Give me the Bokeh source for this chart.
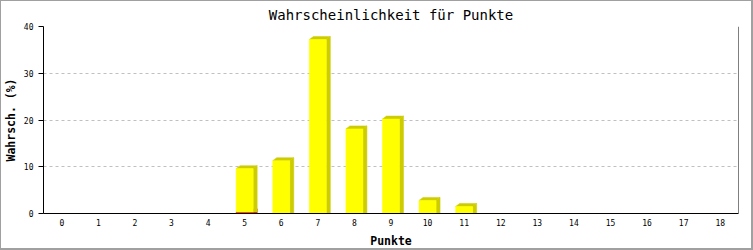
from bokeh.plotting import figure
from bokeh.models import Range1d, FixedTicker, Span
from bokeh.embed import file_html
from bokeh.resources import INLINE

# ---- data ----
points = [0, 1, 2, 3, 4, 5, 6, 7, 8, 9, 10, 11, 12, 13, 14, 15, 16, 17, 18]
red_vals = [0, 0, 0, 0, 0, 0.3, 0, 0, 0, 0, 0, 0, 0, 0, 0, 0, 0, 0, 0]
yellow_vals = [0, 0, 0, 0, 0, 9.3, 11.3, 37.2, 18.1, 20.2, 2.8, 1.5, 0, 0, 0, 0, 0, 0, 0]
y_ticks = [0, 10, 20, 30, 40]

title = "Wahrscheinlichkeit für Punkte"
x_label = "Punkte"
y_label = "Wahrsch. (%)"

# ---- style ----
W, H = 753, 250
FONT = "DejaVu Sans Mono"
BAR_W = 0.465          # front face width (category units)
DX = 0.109             # depth offset x (category units, ~4px)
DY = 0.64              # depth offset y (data units, ~3px)

p = figure(width=W, height=H, output_backend="svg", toolbar_location=None,
           x_range=Range1d(-0.5, 18.5), y_range=Range1d(0, 40),
           min_border_left=43, min_border_right=15, min_border_top=26, min_border_bottom=36)
p.border_fill_color = None
p.background_fill_color = "white"
p.outline_line_color = None
p.styles = {"box-shadow": "inset 1px 1px 0 #a0a0a0, inset -2px -2px 0 #a0a0a0",
            "background-color": "white"}

p.title.text = title
p.title.align = "center"
p.title.vertical_align = "top"
p.title.text_font = FONT
p.title.text_font_style = "normal"
p.title.text_font_size = "14px"
p.title.text_color = "black"
p.title.offset = -14
p.title.standoff = 4


def draw_series(bottoms, tops, front, shade):
    xs_f, b_f, t_f = [], [], []
    side_x, side_y, top_x, top_y = [], [], [], []
    for x, b, t in zip(points, bottoms, tops):
        if t - b <= 0:
            continue
        xl, xr = x - BAR_W / 2, x + BAR_W / 2
        xs_f.append(x); b_f.append(b); t_f.append(t)
        side_x.append([xr, xr + DX, xr + DX, xr])
        side_y.append([b, b, t + DY, t])
        top_x.append([xl, xl + DX, xr + DX, xr])
        top_y.append([t, t + DY, t + DY, t])
    p.patches(side_x, side_y, fill_color=shade, line_color=shade, line_width=0.5)
    p.patches(top_x, top_y, fill_color=shade, line_color=shade, line_width=0.5)
    p.vbar(x=xs_f, bottom=b_f, top=t_f, width=BAR_W, fill_color=front,
           line_color=front, line_width=0.5)


zeros = [0] * len(points)
red_top = [r for r in red_vals]
yellow_top = [r + y for r, y in zip(red_vals, yellow_vals)]
draw_series(zeros, red_top, "#ff0000", "#cc0000")
draw_series(red_top, yellow_top, "#ffff00", "#cccc00")

# grid
p.xgrid.visible = False
p.ygrid.ticker = FixedTicker(ticks=[10, 20, 30, 40])
p.ygrid.grid_line_color = "#c0c0c0"
p.ygrid.grid_line_dash = "3 3"
p.ygrid.grid_line_width = 1

# x axis
xa = p.xaxis[0]
xa.ticker = FixedTicker(ticks=points)
xa.major_tick_out = 0
xa.major_tick_in = 0
xa.minor_tick_line_color = None
xa.axis_line_color = "black"
xa.major_label_text_font = FONT
xa.major_label_text_font_size = "8px"
xa.major_label_text_color = "black"
xa.major_label_standoff = 5
xa.axis_label = x_label
xa.axis_label_text_font = FONT
xa.axis_label_text_font_style = "bold"
xa.axis_label_text_font_size = "11.5px"
xa.axis_label_text_color = "black"
xa.axis_label_standoff = 5

# y axis
ya = p.yaxis[0]
ya.ticker = FixedTicker(ticks=y_ticks)
ya.major_tick_out = 5
ya.major_tick_in = 0
ya.minor_tick_line_color = None
ya.axis_line_color = "black"
ya.major_label_text_font = FONT
ya.major_label_text_font_size = "8px"
ya.major_label_text_color = "black"
ya.major_label_standoff = 5
ya.axis_label = y_label
ya.axis_label_text_font = FONT
ya.axis_label_text_font_style = "bold"
ya.axis_label_text_font_size = "11.5px"
ya.axis_label_text_color = "black"
ya.axis_label_standoff = 3

# right frame line
p.add_layout(Span(location=18.5, dimension="height", line_color="black", line_width=1))

open("out.html", "w").write(file_html(p, INLINE))
